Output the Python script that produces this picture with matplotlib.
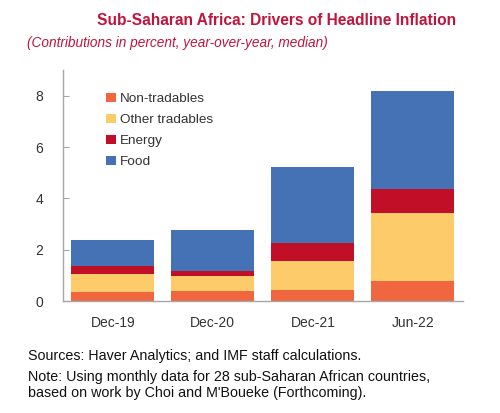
import numpy as np
import matplotlib
matplotlib.use("Agg")
import matplotlib.pyplot as plt

plt.rcParams['font.family'] = ['Liberation Sans', 'DejaVu Sans']

# Contributions (percent, y/y, median)
periods = ['Dec-19', 'Dec-20', 'Dec-21', 'Jun-22']
non_tradables = [0.37, 0.38, 0.43, 0.80]
other_tradables = [0.69, 0.60, 1.13, 2.62]
energy = [0.31, 0.18, 0.71, 0.93]
food = [0.99, 1.59, 2.95, 3.83]

series = [
    ('Non-tradables', non_tradables, '#F0673F'),
    ('Other tradables', other_tradables, '#FDCB6A'),
    ('Energy', energy, '#C00F27'),
    ('Food', food, '#4472B4'),
]

fig = plt.figure(figsize=(5.0, 4.13), dpi=100)
ax = fig.add_axes([0.1254, 0.271, 0.8006, 0.5595])

x = np.arange(len(periods))
bottom = np.zeros(len(periods))
for name, vals, color in series:
    ax.bar(x, vals, width=0.83, bottom=bottom, color=color, label=name,
           edgecolor='none')
    bottom += np.array(vals)

ax.set_xlim(-0.5, 3.5)
ax.set_ylim(0, 9)
ax.set_yticks([0, 2, 4, 6, 8])
ax.set_xticks(x)
ax.set_xticklabels(periods)

for s in ['top', 'right']:
    ax.spines[s].set_visible(False)
for s in ['left', 'bottom']:
    ax.spines[s].set_color('#A6A6A6')
    ax.spines[s].set_linewidth(1.0)

ax.tick_params(axis='y', direction='in', length=4, color='#A6A6A6',
               labelsize=10, labelcolor='#333333', pad=14)
ax.tick_params(axis='x', length=0, labelsize=10, labelcolor='#333333', pad=11)

leg = ax.legend(loc='upper left', bbox_to_anchor=(0.095, 0.925), frameon=False,
                fontsize=9.7, handlelength=0.7, handleheight=0.7,
                handletextpad=0.35, labelspacing=0.64, borderaxespad=0)
for t in leg.get_texts():
    t.set_color('#333333')

fig.text(0.554, 0.95, 'Sub-Saharan Africa: Drivers of Headline Inflation',
         ha='center', va='center', fontsize=11.2, fontweight='bold',
         color='#C0143C')
fig.text(0.054, 0.896, '(Contributions in percent, year-over-year, median)',
         ha='left', va='center', fontsize=9.85, style='italic',
         color='#C0143C')

fig.text(0.056, 0.138, 'Sources: Haver Analytics; and IMF staff calculations.',
         ha='left', va='center', fontsize=10.3, color='#111111')
fig.text(0.056, 0.086, 'Note: Using monthly data for 28 sub-Saharan African countries,',
         ha='left', va='center', fontsize=10.3, color='#111111')
fig.text(0.056, 0.049, "based on work by Choi and M'Boueke (Forthcoming).",
         ha='left', va='center', fontsize=10.3, color='#111111')

fig.savefig('out.png', dpi=100)
